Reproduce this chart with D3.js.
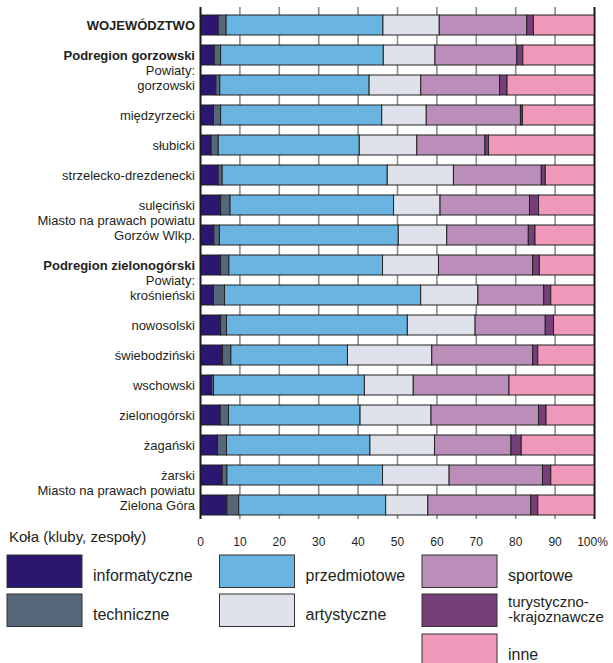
<!DOCTYPE html>
<html>
<head>
<meta charset="utf-8">
<script src="https://cdn.jsdelivr.net/npm/d3@7/dist/d3.min.js"></script>
<style>
  html, body { margin: 0; padding: 0; background: #fff; }
  svg { display: block; font-family: "Liberation Sans", Arial, sans-serif; }
</style>
</head>
<body>
<svg id="chart" width="613" height="663"></svg>
<script>
// ---- DATA ----
const categories = [
  "WOJEWÓDZTWO", "Podregion gorzowski", "gorzowski", "międzyrzecki", "słubicki",
  "strzelecko-drezdenecki", "sulęciński", "Gorzów Wlkp.", "Podregion zielonogórski",
  "krośnieński", "nowosolski", "świebodziński", "wschowski", "zielonogórski",
  "żagański", "żarski", "Zielona Góra"
];
const preLabels = ["", "", "Powiaty:", "", "", "", "", "Miasto na prawach powiatu", "",
  "Powiaty:", "", "", "", "", "", "", "Miasto na prawach powiatu"];
const boldRows = ["WOJEWÓDZTWO", "Podregion gorzowski", "Podregion zielonogórski"];

const seriesNames = ["informatyczne", "techniczne", "przedmiotowe", "artystyczne",
  "sportowe", "turystyczno-krajoznawcze", "inne"];

const informatyczne = [4.5, 3.5, 3.9, 3.3, 2.7, 4.5, 5.1, 3.4, 5.1, 3.3, 5.1, 5.6, 2.8, 5.0, 4.3, 5.5, 6.7];
const techniczne    = [2.0, 1.6, 1.0, 1.8, 1.8, 1.0, 2.4, 1.4, 2.1, 2.8, 1.5, 2.1, 0.5, 2.1, 2.3, 1.2, 3.0];
const przedmiotowe  = [39.8, 41.3, 37.9, 40.9, 35.8, 41.9, 41.5, 45.4, 39.0, 49.8, 45.9, 29.6, 38.3, 33.4, 36.4, 39.5, 37.3];
const artystyczne   = [14.3, 13.1, 13.1, 11.3, 14.6, 16.8, 11.8, 12.3, 14.2, 14.5, 17.2, 21.4, 12.4, 18.0, 16.4, 16.9, 10.7];
const sportowe      = [22.2, 20.8, 20.0, 23.9, 17.3, 22.3, 22.7, 20.7, 23.9, 16.7, 17.8, 25.6, 24.3, 27.3, 19.4, 23.7, 26.1];
const turystyczne   = [1.7, 1.5, 1.9, 0.5, 0.9, 1.0, 2.3, 1.7, 1.7, 1.8, 2.1, 1.3, 0.0, 1.9, 2.6, 2.1, 1.8];
const inne          = [15.5, 18.2, 22.2, 18.3, 26.9, 12.5, 14.2, 15.1, 14.0, 11.1, 10.4, 14.4, 21.7, 12.3, 18.6, 11.1, 14.4];

const tickValues = [0, 10, 20, 30, 40, 50, 60, 70, 80, 90, 100];
const tickLabels = ["0", "10", "20", "30", "40", "50", "60", "70", "80", "90", "100%"];

const colors = ["#2b176f", "#56677a", "#69b4e1", "#e0e2eb", "#bb8eba", "#773f78", "#f098ba"];

const legendTitle = "Koła (kluby, zespoły)";
const legendLabels = [["informatyczne"], ["techniczne"], ["przedmiotowe"], ["artystyczne"],
  ["sportowe"], ["turystyczno-", "-krajoznawcze"], ["inne"]];

// ---- BUILD ----
const seriesArrays = [informatyczne, techniczne, przedmiotowe, artystyczne, sportowe, turystyczne, inne];
const table = categories.map((c, i) => {
  const row = { cat: c };
  seriesNames.forEach((s, j) => row[s] = seriesArrays[j][i]);
  return row;
});
const stacked = d3.stack().keys(seriesNames)(table);

const svg = d3.select("#chart");
const x = d3.scaleLinear().domain([0, 100]).range([200.5, 594.5]);
const y = d3.scaleBand().domain(categories).range([10, 520]).paddingInner(1/3).paddingOuter(1/6);

const gridTop = 7, gridBottom = 519;

// gridlines
svg.append("g").selectAll("line").data(tickValues).join("line")
  .attr("x1", d => x(d)).attr("x2", d => x(d))
  .attr("y1", gridTop).attr("y2", gridBottom)
  .attr("stroke", d => (d === 0 || d === 100) ? "#1a1a1a" : "#8a8a8a")
  .attr("stroke-width", 1.6);

// bars
svg.append("g").selectAll("g").data(stacked).join("g")
  .attr("fill", (d, i) => colors[i])
  .selectAll("rect").data(d => d).join("rect")
  .attr("x", d => x(d[0]))
  .attr("width", d => Math.max(0, x(d[1]) - x(d[0])))
  .attr("y", d => y(d.data.cat))
  .attr("height", y.bandwidth())
  .attr("stroke", "#222")
  .attr("stroke-width", d => (d[1] - d[0]) > 0 ? 1 : 0);

// outer axis lines on top
svg.append("g").selectAll("line").data([0, 100]).join("line")
  .attr("x1", d => x(d)).attr("x2", d => x(d))
  .attr("y1", gridTop).attr("y2", gridBottom)
  .attr("stroke", "#1a1a1a").attr("stroke-width", 1.6);

// category labels
const lab = svg.append("g").attr("font-size", 13).attr("fill", "#231f20").attr("text-anchor", "end");
lab.selectAll("text.cat").data(categories).join("text")
  .attr("class", "cat")
  .attr("x", 195)
  .attr("y", d => y(d) + y.bandwidth() / 2)
  .attr("dy", "0.36em")
  .attr("font-weight", d => boldRows.includes(d) ? "bold" : "normal")
  .text(d => d);
lab.selectAll("text.pre").data(categories.map((c, i) => ({ c, t: preLabels[i] })).filter(d => d.t))
  .join("text")
  .attr("class", "pre")
  .attr("x", 195)
  .attr("y", d => y(d.c) - 5)
  .attr("dy", "0.36em")
  .text(d => d.t);

// x tick labels
svg.append("g").attr("font-size", 12).attr("fill", "#231f20").attr("text-anchor", "middle")
  .selectAll("text").data(tickValues).join("text")
  .attr("x", d => x(d) - (d === 100 ? 2 : 0))
  .attr("y", 545.5)
  .text((d, i) => tickLabels[i]);

// legend
svg.append("text").attr("x", 9).attr("y", 541.5).attr("font-size", 15).attr("fill", "#231f20")
  .text(legendTitle);

const legendPos = [[7, 555], [7, 594], [219.5, 555], [219.5, 594], [422, 555], [422, 594], [422, 634]];
const lg = svg.append("g");
const items = lg.selectAll("g").data(seriesNames).join("g")
  .attr("transform", (d, i) => `translate(${legendPos[i][0]},${legendPos[i][1]})`);
items.append("rect")
  .attr("width", 75).attr("height", 32.5)
  .attr("fill", (d, i) => colors[i])
  .attr("stroke", "#333").attr("stroke-width", 1);
items.append("text")
  .attr("x", 86)
  .attr("font-size", (d, i) => legendLabels[i].length > 1 ? 15 : 16)
  .attr("fill", "#231f20")
  .each(function (d, i) {
    const lines = legendLabels[i];
    const t = d3.select(this);
    const base = lines.length === 1 ? (i === 6 ? 26 : 25.5) : 12.5;
    lines.forEach((l, k) => t.append("tspan").attr("x", 86).attr("y", base + k * 15.5).text(l));
  });
</script>
</body>
</html>
